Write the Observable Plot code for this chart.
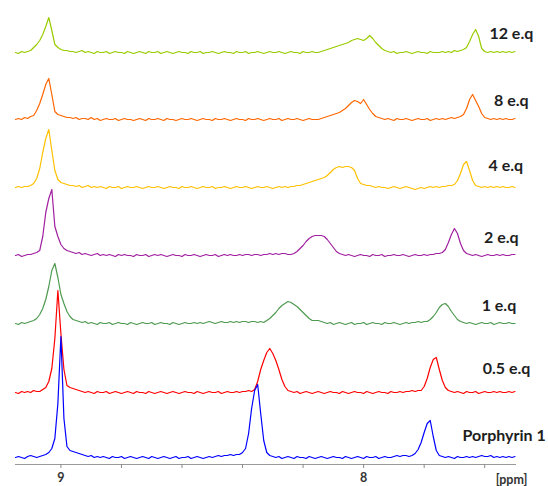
<!DOCTYPE html>
<html>
<head>
<meta charset="utf-8">
<script src="https://cdn.jsdelivr.net/npm/d3@7"></script>
<script src="https://cdn.jsdelivr.net/npm/@observablehq/plot@0.6"></script>
<style>
  html, body { margin: 0; padding: 0; background: #fff; }
  #chart { width: 548px; height: 486px; }
</style>
</head>
<body>
<div id="chart"></div>
<script>
// ---- data ----
// chemical shift sampling: starts at 9.15 ppm, step 0.01 ppm towards high field
const ppmStart = 9.15;
const ppmStep = 0.01;

// series names (bottom to top) and their colours
const seriesNames = ["Porphyrin 1", "0.5 e.q", "1 e.q", "2 e.q", "4 e.q", "8 e.q", "12 e.q"];
const seriesColors = ["#0000FF", "#FF0000", "#4E9A50", "#A020A0", "#FFC000", "#FF6600", "#99CC00"];

// intensities (arbitrary units) per sample
const porphyrin1 = [
1,2,1,0,2,3,2,1,2,3,
4,6,10,20,55,122,40,12,8,7,
6,5,4,3,2,3,1,2,1,2,
1,0,2,1,1,2,0,1,2,1,
0,1,2,1,0,2,1,0,1,2,
1,0,1,2,0,1,1,2,0,1,
2,1,0,1,2,1,2,3,2,3,
3,4,3,4,4,6,10,25,50,68,
74,45,18,6,3,2,1,2,0,1,
2,1,0,2,1,1,0,2,1,0,
1,2,1,0,1,2,1,1,0,2,
1,0,1,2,1,0,2,1,1,2,
0,1,2,1,1,2,3,2,3,3,
2,3,5,9,16,26,35,38,22,8,
3,2,1,2,1,0,2,1,1,2,
1,2,1,2,3,2,2,3,1,2,
1,2,1,2,1,2];

const eq05 = [
1,0,2,1,2,1,3,2,2,4,
6,12,25,55,103,60,24,8,6,5,
4,3,2,1,2,1,0,2,1,1,
2,0,1,2,1,0,1,2,1,0,
2,1,1,0,2,1,0,1,2,1,
0,1,2,1,0,1,2,1,1,0,
2,1,0,1,2,1,1,2,0,1,
2,1,1,2,1,2,2,3,2,4,
12,24,33,41,45,40,33,24,14,7,
3,2,1,2,0,1,2,1,0,1,
2,1,0,1,2,1,1,0,2,1,
0,1,2,1,1,0,2,1,0,1,
2,1,1,0,2,1,1,2,1,2,
2,3,2,3,3,7,15,26,34,36,
24,13,6,3,2,1,2,1,0,2,
1,1,2,0,1,2,1,1,2,1,
2,1,1,2,1,2];

const eq1 = [
1,0,2,1,2,3,4,6,10,16,
25,38,54,61,47,30,21,13,8,5,
4,3,2,3,1,2,1,0,2,1,
1,2,0,1,2,1,1,0,2,1,
0,1,2,1,1,2,0,1,2,1,
1,0,2,1,0,1,2,1,1,2,
1,2,1,2,3,2,1,2,3,2,
2,3,2,3,2,3,3,2,3,3,
2,3,2,4,6,9,12,16,19,21,
23,22,20,18,15,12,9,6,4,4,
4,3,2,1,2,0,1,2,1,0,
1,2,0,1,1,2,0,1,2,1,
1,0,2,1,1,2,1,0,1,2,
1,2,2,3,2,3,3,5,8,12,
17,20,21,18,13,9,5,3,2,1,
2,1,0,1,2,1,1,2,0,1,
2,1,1,2,1,1];

const eq2 = [
1,2,0,1,2,2,3,4,6,20,
44,58,67,30,20,12,8,6,5,4,
3,4,2,3,2,1,2,3,1,2,
1,2,1,0,2,1,2,1,1,0,
2,1,1,2,0,1,2,1,2,1,
0,1,2,1,1,0,2,1,1,2,
1,0,1,2,1,1,2,0,1,2,
1,2,1,1,2,1,2,2,1,2,
2,1,2,2,3,2,3,2,3,3,
2,2,3,5,8,11,15,18,20,21,
21,21,20,17,13,9,5,3,2,1,
2,1,0,1,2,1,1,0,2,1,
1,2,0,1,1,2,1,1,2,1,
0,1,2,1,1,2,1,2,2,3,
3,4,7,14,22,28,23,13,6,3,
2,1,2,1,0,1,2,1,1,2,
1,2,1,1,2,2];

const eq4 = [
1,2,1,2,2,3,5,10,20,36,
50,59,38,18,9,6,5,4,3,3,
2,3,1,2,3,1,2,1,2,1,
0,2,1,1,2,0,1,2,1,1,
2,1,0,1,2,1,1,2,1,0,
1,2,1,1,0,2,1,1,2,1,
0,1,2,1,1,2,0,1,1,2,
1,0,1,2,1,1,2,1,0,1,
2,1,1,2,1,0,1,2,1,2,
1,2,2,3,3,4,5,6,7,8,
9,10,11,13,16,19,21,22,21,22,
22,21,18,10,5,4,3,3,2,1,
2,1,1,0,1,2,1,0,1,2,
1,0,-1,0,1,0,1,2,1,2,
1,2,2,3,3,4,8,15,24,27,
18,8,3,2,1,2,1,2,1,2,
1,2,1,1,2,1];

const eq8 = [
1,2,1,3,2,4,5,10,17,26,
36,42,26,9,6,5,4,3,3,2,
3,1,2,2,1,3,1,2,0,1,
2,1,1,2,0,1,2,1,1,0,
1,2,1,0,2,1,1,2,1,0,
2,1,1,0,1,2,1,1,2,1,
0,1,2,1,1,0,2,1,1,2,
1,0,1,2,1,1,0,2,1,1,
2,1,0,1,2,1,1,2,0,1,
2,1,1,2,1,0,1,2,1,1,
1,2,3,4,5,6,7,8,10,12,
15,18,20,19,17,21,16,11,7,4,
3,2,1,2,1,0,2,1,1,2,
1,0,1,2,1,1,2,0,1,2,
1,2,1,2,3,2,3,4,6,12,
21,26,20,14,7,3,2,1,2,1,
2,1,2,1,1,2];

const eq12 = [
1,0,2,1,2,3,6,9,13,19,
27,36,23,9,6,4,3,3,2,2,
1,2,3,1,2,1,0,2,1,1,
2,0,1,2,1,1,0,2,1,0,
1,2,1,0,2,1,1,2,0,1,
2,1,0,1,2,1,1,0,2,1,
1,2,0,1,1,2,1,0,1,2,
1,1,0,2,1,1,2,0,1,1,
2,1,0,1,2,1,1,2,1,0,
1,2,1,1,0,2,1,1,2,1,
1,2,3,4,5,6,7,8,9,10,
11,13,14,15,14,13,15,18,15,11,
8,5,3,2,1,2,0,1,1,2,
1,0,1,2,1,1,0,2,1,1,
1,2,1,2,1,3,2,3,4,6,
12,19,24,17,5,2,1,2,1,2,
1,2,1,2,1,2];

// axis ticks (ppm) and which ones carry a label
const tickValues = [9, 8.8, 8.6, 8.4, 8.2, 8, 7.8, 7.6];
const tickLabels = ["9", "", "", "", "", "8", "", ""];
const axisUnit = "[ppm]";

// ---- layout (stacking of the spectra, label placement) ----
const stackOffsets = [6, 71, 140, 208, 276, 344, 411];
const labelCenterPpm = [7.536, 7.528, 7.553, 7.545, 7.530, 7.512, 7.512];
const labelLift = [23, 25, 19, 19, 23, 20, 20];

const spectra = [porphyrin1, eq05, eq1, eq2, eq4, eq8, eq12];

const rows = [];
spectra.forEach((vals, s) => {
  vals.forEach((v, i) => {
    rows.push({series: seriesNames[s], ppm: ppmStart - ppmStep * i, y: stackOffsets[s] + v, order: s});
  });
});
// draw top spectra first so lower ones lie above
rows.sort((a, b) => b.order - a.order);

const labels = seriesNames.map((name, s) => ({
  name, ppm: labelCenterPpm[s], y: stackOffsets[s] + labelLift[s]
}));

const chart = Plot.plot({
  width: 548,
  height: 486,
  marginTop: 0,
  marginBottom: 22,
  marginLeft: 15,
  marginRight: 32,
  style: {fontFamily: "Lato, 'Open Sans', sans-serif", background: "#fff"},
  x: {domain: [9.15, 7.495]},
  y: {domain: [0, 464], axis: null},
  color: {domain: seriesNames, range: seriesColors},
  marks: [
    Plot.ruleY([0], {stroke: "#9a9a9a", strokeWidth: 1}),
    Plot.axisX(tickValues, {
      tickSize: 4, tickPadding: 5,
      stroke: "#8a8a8a",
      fill: "#333",
      fontSize: 12.5, fontWeight: "bold",
      tickFormat: (d) => tickLabels[tickValues.indexOf(d)],
      label: null
    }),
    Plot.text([axisUnit], {
      frameAnchor: "bottom-right", text: (d) => d,
      textAnchor: "end", lineAnchor: "middle",
      dx: 11, dy: 15, fontSize: 12.5, fontWeight: "bold", fill: "#333"
    }),
    Plot.line(rows, {
      x: "ppm", y: "y", z: "series", stroke: "series",
      strokeWidth: 1.2, curve: "linear"
    }),
    Plot.text(labels, {
      x: "ppm", y: "y", text: "name",
      textAnchor: "middle", lineAnchor: "middle",
      fontSize: 16, fontWeight: "bold", fill: "#1e1e1e"
    })
  ]
});
document.getElementById("chart").appendChild(chart);
</script>
</body>
</html>
